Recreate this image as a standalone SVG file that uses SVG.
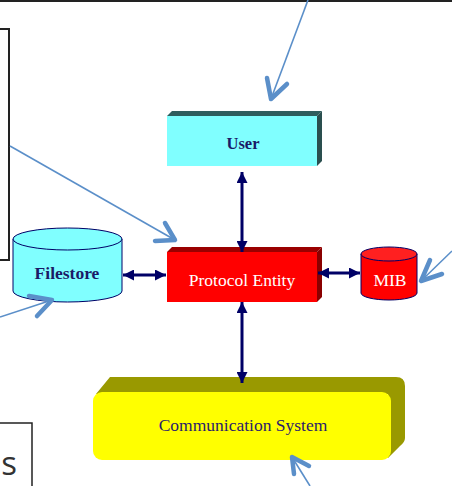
<svg xmlns="http://www.w3.org/2000/svg" width="452" height="486" viewBox="0 0 452 486">
<style>
.frame{fill:none;stroke:#222;stroke-width:2}
.lbl{font-family:"Liberation Serif","Times New Roman",serif;font-size:17.5px;text-anchor:middle}
.navy{fill:#1a1a66}
.white{fill:#ffffff}
.link{stroke:#000066;stroke-width:3;fill:none;marker-start:url(#ah);marker-end:url(#ah)}
.call{stroke:#5b8fc9;stroke-width:1.6;fill:none}
.chev{stroke:#5b8fc9;stroke-width:4.5;fill:none;stroke-linecap:round;stroke-linejoin:round}
</style>
<defs>
<marker id="ah" viewBox="0 0 10 10" refX="10" refY="5" markerWidth="11" markerHeight="11" markerUnits="userSpaceOnUse" orient="auto-start-reverse">
<path d="M0,0 L10,5 L0,10 z" fill="#000066"/>
</marker>
</defs>
<rect width="452" height="486" fill="#ffffff"/>
<g id="frames">
<line class="frame" x1="0" y1="1" x2="452" y2="1"/>
<polyline class="frame" points="0,29 9,29 9,260 0,260"/>
<polyline class="frame" points="0,423 32,423 32,486" style="stroke-width:1.5"/>
<text x="17" y="475" font-family="'Open Sans',sans-serif" font-size="33" fill="#333" text-anchor="end">s</text>
</g>
<g id="user">
<polygon points="167,116 172,111 322,111 317,116" fill="#2e5e5e"/>
<polygon points="317,116 322,111 322,161 317,166" fill="#2a4f4f"/>
<rect x="167" y="116" width="150" height="50" fill="#80ffff"/>
<text class="lbl navy" x="243" y="149" font-weight="bold" style="font-size:16.5px">User</text>
</g>
<g id="protocol">
<polygon points="167,252 172,247 322,247 317,252" fill="#9a0000"/>
<polygon points="317,252 322,247 322,297 317,302" fill="#8a0000"/>
<rect x="167" y="252" width="150" height="50" fill="#ff0000"/>
<text class="lbl white" x="242" y="286">Protocol Entity</text>
</g>
<g id="filestore">
<path d="M13,239 L13,291 A54.5,11 0 0 0 122,291 L122,239 Z" fill="#80ffff" stroke="#000066" stroke-width="1"/>
<ellipse cx="67.5" cy="239" rx="54.5" ry="11" fill="#80ffff" stroke="#000066" stroke-width="1"/>
<text class="lbl navy" x="67" y="279" font-weight="bold">Filestore</text>
</g>
<g id="mib">
<path d="M361,254 L361,293 A28,7 0 0 0 417,293 L417,254 Z" fill="#ff0000" stroke="#000066" stroke-width="1"/>
<ellipse cx="389" cy="254" rx="28" ry="7" fill="#ff2020" stroke="#000066" stroke-width="1"/>
<text class="lbl white" x="390" y="286">MIB</text>
</g>
<g id="comm">
<path d="M96,394 L110,377 L396,377 Q405,377 405,386 L405,438 Q405,442 400,446 L388,458 L388,394 Z" fill="#999900"/>
<rect x="93" y="392" width="298" height="68" rx="9" ry="9" fill="#ffff00"/>
<text class="lbl" x="243" y="431" fill="#2b1b6b">Communication System</text>
</g>
<g id="connectors">
<line class="link" x1="242" y1="172" x2="242" y2="252"/>
<line class="link" x1="242" y1="302" x2="242" y2="383"/>
<line class="link" x1="123" y1="275" x2="166" y2="275"/>
<line class="link" x1="318" y1="273" x2="360" y2="273"/>
<line class="call" x1="308" y1="0" x2="271" y2="99"/>
<path class="chev" d="M267,78 L271,99 L287,84"/>
<line class="call" x1="10" y1="146" x2="175" y2="240"/>
<path class="chev" d="M165,223 L175,240 L155,241"/>
<line class="call" x1="0" y1="317" x2="52" y2="300"/>
<path class="chev" d="M29,296 L52,300 L37,316"/>
<line class="call" x1="452" y1="251" x2="421" y2="281"/>
<path class="chev" d="M430,260 L421,281 L442,274"/>
<line class="call" x1="310" y1="486" x2="292" y2="457"/>
<path class="chev" d="M294,474 L292,457 L309,466"/>
</g>
</svg>
